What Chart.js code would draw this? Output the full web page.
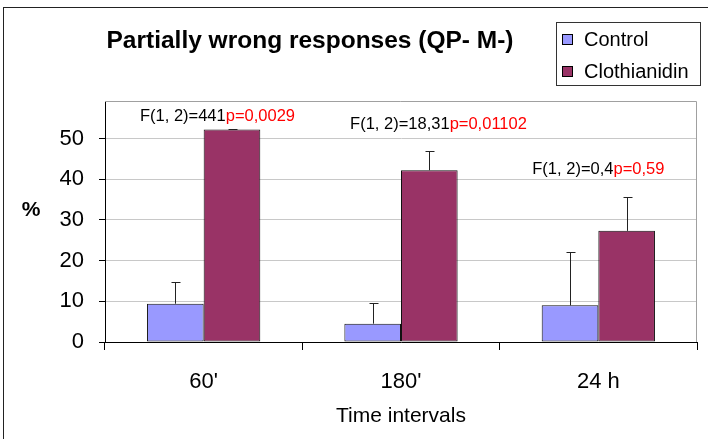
<!DOCTYPE html>
<html>
<head>
<meta charset="utf-8">
<script src="https://cdn.jsdelivr.net/npm/chart.js@4.4.1/dist/chart.umd.min.js"></script>
<style>
  body { margin: 0; background: #fff; }
  #wrap { width: 708px; height: 439px; }
</style>
</head>
<body>
<div id="wrap"><canvas id="chart" width="708" height="439"></canvas></div>
<script>
// Partially wrong responses (QP- M-)
const categories = ["60'", "180'", "24 h"];
const controlValues = [9.4, 4.5, 9.0];
const controlErrors = [5.3, 5.2, 13.0];
const clothianidinValues = [52.2, 42.2, 27.3];
const clothianidinErrors = [0.2, 4.7, 8.3];
const yTicks = [0, 10, 20, 30, 40, 50];

// ANOVA notes above each group
const statF = ['F(1, 2)=441', 'F(1, 2)=18,31', 'F(1, 2)=0,4'];
const statP = ['p=0,0029', 'p=0,01102', 'p=0,59'];
const statY = [55.3, 53.5, 42.3];
const statShift = [0.07, 0.19, 0.0]; // in category units

const FONT = "'Liberation Sans', Arial, Helvetica, sans-serif";
Chart.defaults.font.family = FONT;
Chart.defaults.color = '#000';

const errors = [controlErrors, clothianidinErrors];

const frame = {
  id: 'frame',
  beforeDraw(chart) {
    const ctx = chart.ctx;
    ctx.save();
    ctx.fillStyle = '#fff';
    ctx.fillRect(0, 0, chart.width, chart.height);
    ctx.strokeStyle = '#222';
    ctx.lineWidth = 1;
    ctx.strokeRect(3.5, 7.5, 760, 500);
    ctx.restore();
  },
  beforeDatasetsDraw(chart) {
    const { ctx, chartArea: a } = chart;
    ctx.save();
    ctx.strokeStyle = '#a0a0a0';
    ctx.lineWidth = 1;
    ctx.beginPath();
    ctx.moveTo(a.left, a.top + 0.5);
    ctx.lineTo(a.right - 0.5, a.top + 0.5);
    ctx.lineTo(a.right - 0.5, a.bottom);
    ctx.stroke();
    ctx.restore();
  },
  afterDatasetsDraw(chart) {
    const { ctx } = chart;
    const y = chart.scales.y, x = chart.scales.x;
    ctx.save();
    // error bars (upper only)
    ctx.strokeStyle = '#222';
    ctx.lineWidth = 1;
    chart.data.datasets.forEach((ds, di) => {
      chart.getDatasetMeta(di).data.forEach((bar, i) => {
        const top = Math.round(y.getPixelForValue(ds.data[i] + errors[di][i])) + 0.5;
        const bx = Math.round(bar.x) + 0.5;
        ctx.beginPath();
        ctx.moveTo(bx, bar.y);
        ctx.lineTo(bx, top);
        ctx.moveTo(bx - 4, top);
        ctx.lineTo(bx + 5, top);
        ctx.stroke();
      });
    });
    // stats text
    ctx.font = '16.5px ' + FONT;
    ctx.textBaseline = 'middle';
    ctx.textAlign = 'left';
    const step = x.getPixelForValue(1) - x.getPixelForValue(0);
    categories.forEach((c, i) => {
      const cx = x.getPixelForValue(i) + statShift[i] * step;
      const cy = y.getPixelForValue(statY[i]);
      const w1 = ctx.measureText(statF[i]).width;
      const w2 = ctx.measureText(statP[i]).width;
      const sx = cx - (w1 + w2) / 2;
      ctx.fillStyle = '#000';
      ctx.fillText(statF[i], sx, cy);
      ctx.fillStyle = '#ff0000';
      ctx.fillText(statP[i], sx + w1, cy);
    });
    ctx.restore();
  },
  afterDraw(chart) {
    const { ctx, chartArea: a } = chart;
    ctx.save();
    // title
    ctx.fillStyle = '#000';
    ctx.textAlign = 'center';
    ctx.textBaseline = 'alphabetic';
    ctx.font = 'bold 24.5px ' + FONT;
    ctx.fillText('Partially wrong responses (QP- M-)', 310, 48);
    // y title
    ctx.font = 'bold 21px ' + FONT;
    ctx.textBaseline = 'middle';
    ctx.fillText('%', 31, 210);
    // x title
    ctx.font = '21px ' + FONT;
    ctx.fillText('Time intervals', (a.left + a.right) / 2, 416);
    // legend
    ctx.strokeStyle = '#333';
    ctx.strokeRect(556.5, 22.5, 144, 63);
    ctx.font = '20px ' + FONT;
    ctx.textAlign = 'left';
    ctx.textBaseline = 'alphabetic';
    chart.data.datasets.forEach((ds, i) => {
      const ty = 46 + i * 32;
      ctx.fillStyle = ds.backgroundColor;
      ctx.fillRect(562.5, ty - 11.5, 10, 10);
      ctx.strokeStyle = '#000';
      ctx.strokeRect(562.5, ty - 11.5, 10, 10);
      ctx.fillStyle = '#000';
      ctx.fillText(ds.label, 584, ty);
    });
    ctx.restore();
  }
};

new Chart(document.getElementById('chart'), {
  type: 'bar',
  data: {
    labels: categories,
    datasets: [
      { label: 'Control', data: controlValues, backgroundColor: '#9999ff',
        borderColor: '#111', borderWidth: 1, borderSkipped: false },
      { label: 'Clothianidin', data: clothianidinValues, backgroundColor: '#993366',
        borderColor: '#111', borderWidth: 1, borderSkipped: false }
    ]
  },
  options: {
    responsive: false,
    animation: false,
    layout: { padding: { top: 101, right: 11, left: 0, bottom: 0 } },
    datasets: { bar: { categoryPercentage: 0.574, barPercentage: 1 } },
    plugins: { legend: { display: false }, title: { display: false }, tooltip: { enabled: false } },
    scales: {
      x: {
        afterFit(s) { s.height = 97; },
        grid: { drawOnChartArea: false, drawTicks: true, tickLength: 8, tickColor: '#000', offset: true },
        border: { color: '#000', width: 1 },
        ticks: { font: { size: 22 }, color: '#000', padding: 19 }
      },
      y: {
        min: 0,
        max: 59.2,
        afterFit(s) { s.width = 105; },
        afterBuildTicks(s) { s.ticks = yTicks.map(v => ({ value: v })); },
        grid: { color: '#c8c8c8', tickColor: '#000', tickLength: 6 },
        border: { color: '#000', width: 1 },
        ticks: { font: { size: 22 }, color: '#000', padding: 15 }
      }
    }
  },
  plugins: [frame]
});
</script>
</body>
</html>
